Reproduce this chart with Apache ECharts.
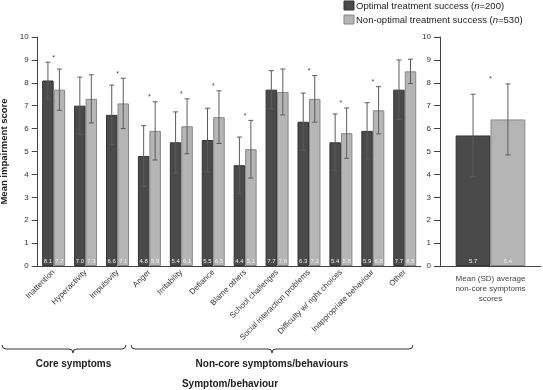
<!DOCTYPE html>
<html><head><meta charset="utf-8">
<script src="https://cdn.jsdelivr.net/npm/echarts@6/dist/echarts.min.js"></script>
<style>html,body{margin:0;padding:0;background:#fff}#c{width:543px;height:390px}</style>
</head><body><div id="c"></div>
<script>
const categories = ['Inattention','Hyperactivity','Impulsivity','Anger','Irritability','Defiance','Blame others','School challenges','Social interaction problems','Difficulty w/ right choices','Inappropriate behaviour','Other'];
const optimalMean = [8.1,7.0,6.6,4.8,5.4,5.5,4.4,7.7,6.3,5.4,5.9,7.7];
const optimalSD   = [0.8,1.25,1.3,1.33,1.33,1.39,1.23,0.83,1.25,1.24,1.23,1.3];
const nonOptMean  = [7.7,7.3,7.1,5.9,6.1,6.5,5.1,7.6,7.3,5.8,6.8,8.5];
const nonOptSD    = [0.9,1.05,1.1,1.27,1.2,1.15,1.26,1.0,1.02,1.1,1.03,0.53];
const significant = [1,0,1,1,1,1,1,0,1,1,1,0];

const avgCategory = ['Mean (SD) average\nnon-core symptoms\nscores'];
const avgOptimalMean = [5.7];
const avgOptimalSD = [1.8];
const avgNonOptMean = [6.4];
const avgNonOptSD = [1.55];
const avgSignificant = [1];

const DARK = '#4a4a4a', LIGHT = '#b5b5b5';
const GAP_L = 0.28, GAP_R = 0.31;

function errRender(side, gap) {
  return function (params, api) {
    const i = api.value(0), m = api.value(1), s = api.value(2);
    const top = api.coord([i, m + s]);
    const bot = api.coord([i, m - s]);
    const band = api.size([1, 0])[0];
    const bw = band * (1 - gap) / 2;
    const x = top[0] + side * bw / 2;
    const st = { stroke: '#5c5c5c', lineWidth: 1 };
    return { type: 'group', children: [
      { type: 'line', shape: { x1: x, y1: top[1], x2: x, y2: bot[1] }, style: st },
      { type: 'line', shape: { x1: x - 2.5, y1: top[1], x2: x + 2.5, y2: top[1] }, style: st },
      { type: 'line', shape: { x1: x - 2.5, y1: bot[1], x2: x + 2.5, y2: bot[1] }, style: st }
    ]};
  };
}
function starRender(params, api) {
  const i = api.value(0), flag = api.value(1), v = api.value(2);
  if (!flag) return null;
  const p = api.coord([i, v]);
  return { type: 'text', x: p[0], y: p[1] - 1, style: { text: '*', fontSize: 7, fill: '#444', align: 'center', verticalAlign: 'bottom', fontFamily: 'Liberation Sans' } };
}
function barLabel() {
  return { show: true, position: 'insideBottom', distance: 2, fontSize: 6, color: '#eeeeee', fontFamily: 'Liberation Sans', formatter: p => p.value.toFixed(1) };
}
function brace(x1, x2, tip, yTop) {
  const ym = yTop + 4, yb = yTop + 8, st = { stroke: '#333', lineWidth: 1, fill: null };
  return [
    { type: 'bezierCurve', shape: { x1: x1, y1: yTop, x2: x1 + 4, y2: ym, cpx1: x1, cpy1: ym }, style: st },
    { type: 'line', shape: { x1: x1 + 4, y1: ym, x2: tip - 4, y2: ym }, style: st },
    { type: 'bezierCurve', shape: { x1: tip - 4, y1: ym, x2: tip, y2: yb, cpx1: tip, cpy1: ym }, style: st },
    { type: 'bezierCurve', shape: { x1: tip + 4, y1: ym, x2: tip, y2: yb, cpx1: tip, cpy1: ym }, style: st },
    { type: 'line', shape: { x1: tip + 4, y1: ym, x2: x2 - 4, y2: ym }, style: st },
    { type: 'bezierCurve', shape: { x1: x2, y1: yTop, x2: x2 - 4, y2: ym, cpx1: x2, cpy1: ym }, style: st }
  ];
}
const yAxisBase = {
  type: 'value', min: 0, max: 10, interval: 1,
  axisLine: { show: true, lineStyle: { color: '#444' } },
  axisTick: { show: true, inside: false, length: 6, lineStyle: { color: '#444' } },
  splitLine: { show: false },
  axisLabel: { fontSize: 8, color: '#333', margin: 9, fontFamily: 'Liberation Sans' }
};

const chart = echarts.init(document.getElementById('c'), null, { renderer: 'canvas' });
chart.setOption({
  animation: false,
  textStyle: { fontFamily: 'Liberation Sans' },
  grid: [
    { left: 37.7, top: 37, width: 383, height: 229, outerBoundsMode: 'none', containLabel: false },
    { left: 440, top: 37, width: 101, height: 229, outerBoundsMode: 'none', containLabel: false }
  ],
  xAxis: [
    { type: 'category', gridIndex: 0, data: categories,
      axisLine: { show: true, lineStyle: { color: '#444' } }, axisTick: { show: false },
      axisLabel: { interval: 0, rotate: 45, fontSize: 8, color: '#333', margin: 5, fontFamily: 'Liberation Sans' } },
    { type: 'category', gridIndex: 1, data: avgCategory,
      axisLine: { show: true, lineStyle: { color: '#444' } }, axisTick: { show: false },
      axisLabel: { fontSize: 8, color: '#444', lineHeight: 10, margin: 8, fontFamily: 'Liberation Sans' } }
  ],
  yAxis: [
    Object.assign({}, yAxisBase, { gridIndex: 0, name: 'Mean impairment score', nameLocation: 'middle', nameGap: 28,
      nameTextStyle: { fontWeight: 'bold', fontSize: 9.5, color: '#222', fontFamily: 'Liberation Sans' } }),
    Object.assign({}, yAxisBase, { gridIndex: 1 })
  ],
  series: [
    { type: 'bar', xAxisIndex: 0, yAxisIndex: 0, data: optimalMean, barGap: '0%', barCategoryGap: (GAP_L*100)+'%',
      itemStyle: { color: DARK, borderColor: '#333', borderWidth: 1 }, label: barLabel() },
    { type: 'bar', xAxisIndex: 0, yAxisIndex: 0, data: nonOptMean, barGap: '0%', barCategoryGap: (GAP_L*100)+'%',
      itemStyle: { color: LIGHT, borderColor: '#888', borderWidth: 1 }, label: barLabel() },
    { type: 'bar', xAxisIndex: 1, yAxisIndex: 1, data: avgOptimalMean, barGap: '0%', barCategoryGap: (GAP_R*100)+'%',
      itemStyle: { color: DARK, borderColor: '#333', borderWidth: 1 }, label: barLabel() },
    { type: 'bar', xAxisIndex: 1, yAxisIndex: 1, data: avgNonOptMean, barGap: '0%', barCategoryGap: (GAP_R*100)+'%',
      itemStyle: { color: LIGHT, borderColor: '#888', borderWidth: 1 }, label: barLabel() },
    { type: 'custom', xAxisIndex: 0, yAxisIndex: 0, renderItem: errRender(-1, GAP_L),
      data: categories.map((c, i) => [i, optimalMean[i], optimalSD[i]]), z: 5 },
    { type: 'custom', xAxisIndex: 0, yAxisIndex: 0, renderItem: errRender(1, GAP_L),
      data: categories.map((c, i) => [i, nonOptMean[i], nonOptSD[i]]), z: 5 },
    { type: 'custom', xAxisIndex: 1, yAxisIndex: 1, renderItem: errRender(-1, GAP_R),
      data: avgCategory.map((c, i) => [i, avgOptimalMean[i], avgOptimalSD[i]]), z: 5 },
    { type: 'custom', xAxisIndex: 1, yAxisIndex: 1, renderItem: errRender(1, GAP_R),
      data: avgCategory.map((c, i) => [i, avgNonOptMean[i], avgNonOptSD[i]]), z: 5 },
    { type: 'custom', xAxisIndex: 0, yAxisIndex: 0, renderItem: starRender,
      data: categories.map((c, i) => [i, significant[i], Math.max(optimalMean[i] + optimalSD[i], nonOptMean[i] + nonOptSD[i])]), z: 5 },
    { type: 'custom', xAxisIndex: 1, yAxisIndex: 1, renderItem: starRender,
      data: avgCategory.map((c, i) => [i, avgSignificant[i], Math.max(avgOptimalMean[i] + avgOptimalSD[i], avgNonOptMean[i] + avgNonOptSD[i])]), z: 5 }
  ],
  graphic: [
    { type: 'rect', shape: { x: 344, y: 1, width: 10, height: 9 }, style: { fill: DARK, stroke: '#333', lineWidth: 1 } },
    { type: 'rect', shape: { x: 344, y: 15, width: 10, height: 9 }, style: { fill: LIGHT, stroke: '#888', lineWidth: 1 } },
    { type: 'text', x: 356, y: 6, style: { text: '{a|Optimal treatment success (}{i|n}{a|=200)}', verticalAlign: 'middle',
      rich: { a: { fontSize: 9.5, fill: '#222', fontFamily: 'Liberation Sans' }, i: { fontSize: 9.5, fill: '#222', fontStyle: 'italic', fontFamily: 'Liberation Sans' } } } },
    { type: 'text', x: 356, y: 20, style: { text: '{a|Non-optimal treatment success (}{i|n}{a|=530)}', verticalAlign: 'middle',
      rich: { a: { fontSize: 9.5, fill: '#222', fontFamily: 'Liberation Sans' }, i: { fontSize: 9.5, fill: '#222', fontStyle: 'italic', fontFamily: 'Liberation Sans' } } } },
    ...brace(2, 126, 73, 345),
    ...brace(131, 413, 272, 345),
    { type: 'text', x: 73.5, y: 364, style: { text: 'Core symptoms', fontSize: 10, fontWeight: 'bold', fill: '#222', align: 'center', verticalAlign: 'middle', fontFamily: 'Liberation Sans' } },
    { type: 'text', x: 272, y: 364, style: { text: 'Non-core symptoms/behaviours', fontSize: 10, fontWeight: 'bold', fill: '#222', align: 'center', verticalAlign: 'middle', fontFamily: 'Liberation Sans' } },
    { type: 'text', x: 230, y: 384, style: { text: 'Symptom/behaviour', fontSize: 10, fontWeight: 'bold', fill: '#222', align: 'center', verticalAlign: 'middle', fontFamily: 'Liberation Sans' } }
  ]
});
</script></body></html>
